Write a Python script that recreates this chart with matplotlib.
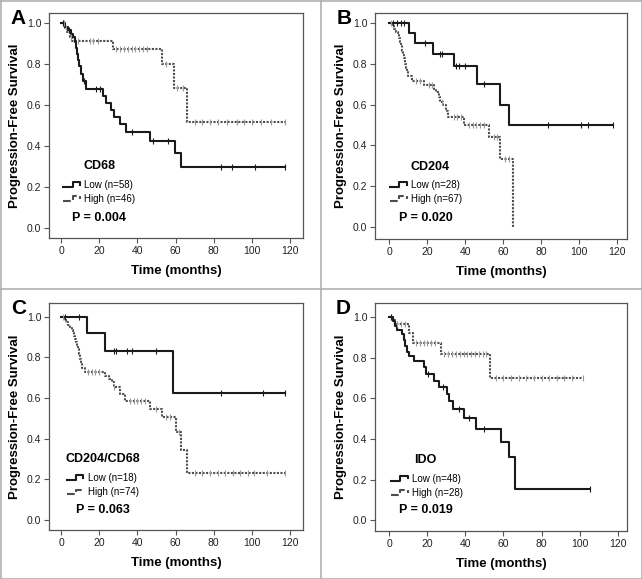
"""
Kaplan-Meier curves (progression-free survival) for four markers,
redrawn as a 2x2 panel figure.
"""

import matplotlib
matplotlib.use("Agg")
import matplotlib.pyplot as plt
import numpy as np
from matplotlib.legend_handler import HandlerBase
from matplotlib.lines import Line2D

plt.rcParams["font.family"] = ["Liberation Sans", "DejaVu Sans"]

# ── Data ────────────────────────────────────────────────────────────────
# A : CD68
A_low_t = [2, 3.5, 5, 6.5, 7.5, 8, 8.5, 9, 9.5, 10.5, 11.5, 13,
           22, 23.5, 26, 28, 31, 34, 46.5, 59.5, 63]
A_low_s = [0.983, 0.966, 0.948, 0.931, 0.91, 0.88, 0.85, 0.82, 0.79, 0.75,
           0.72, 0.68, 0.645, 0.61, 0.575, 0.54, 0.505, 0.47, 0.425, 0.365, 0.295]
A_low_c = [1, 4, 12, 18.5, 20.5, 37, 48, 56, 84, 89.5, 101.5, 117.5]
A_high_t = [2, 3, 4.5, 6, 27, 53, 59, 66]
A_high_s = [0.978, 0.957, 0.935, 0.913, 0.876, 0.80, 0.685, 0.515]
A_high_c = [1, 1.5, 2.5, 5, 9, 15, 17, 19.5, 29, 31, 33, 35, 37, 39, 41, 43,
            45, 55, 61, 64, 70, 74, 78, 82, 87, 92, 96, 100, 105, 110, 117.5]

# B : CD204
B_low_t = [10.5, 13.5, 23, 34, 46.5, 58.5, 63]
B_low_s = [0.952, 0.905, 0.849, 0.79, 0.70, 0.60, 0.50]
B_low_c = [2, 4, 6, 8, 19, 27, 28, 35, 37, 40, 50, 84, 101, 105, 118]
B_high_t = [1.5, 2.5, 3.5, 4.5, 5, 5.5, 6, 6.5, 7, 7.5, 8, 8.5, 9, 9.5, 10,
            12, 18.5, 23.5, 24.5, 26, 27, 28.5, 30, 31, 39.5, 52.5, 58.5, 65.5]
B_high_s = [0.985, 0.97, 0.955, 0.94, 0.925, 0.91, 0.894, 0.878, 0.862, 0.846,
            0.83, 0.80, 0.78, 0.76, 0.74, 0.718, 0.695, 0.678, 0.66, 0.635,
            0.613, 0.598, 0.57, 0.537, 0.498, 0.443, 0.331, 0.0]
B_high_c = [1, 2, 14, 16, 21, 22.5, 28, 34, 36, 38, 42, 44, 46, 48, 50,
            55, 57, 61, 63]

# C : CD204/CD68
C_low_t = [13.5, 23, 58.5]
C_low_s = [0.917, 0.833, 0.625]
C_low_c = [2, 9.5, 27.5, 29, 34.5, 37, 50, 84, 106, 117.5]
C_high_t = [1.5, 2.5, 3.5, 4.5, 5.5, 6.5, 7, 7.5, 8, 8.5, 9, 9.5, 10, 10.5,
            11, 12.5, 23, 25, 26.5, 27.5, 31, 33.5, 46.5, 53, 60, 63, 66]
C_high_s = [0.986, 0.973, 0.959, 0.946, 0.932, 0.919, 0.905, 0.89, 0.875,
            0.86, 0.84, 0.815, 0.79, 0.765, 0.745, 0.727, 0.71, 0.695, 0.677,
            0.652, 0.62, 0.587, 0.546, 0.504, 0.43, 0.342, 0.23]
C_high_c = [1, 2, 14, 16, 18, 20, 28, 36, 38, 40, 42, 44, 50, 55, 57, 62,
            70, 74, 78, 82, 86, 90, 94, 98, 101, 108, 117.5]

# D : IDO
D_low_t = [2, 3, 4, 6.5, 7.5, 8.5, 9.5, 10.5, 13, 18.5, 19.5, 23.5, 26,
           30.5, 31.5, 33.5, 39.5, 45.5, 58.5, 63, 66]
D_low_s = [0.979, 0.958, 0.937, 0.916, 0.89, 0.86, 0.83, 0.81, 0.786, 0.755,
           0.72, 0.688, 0.656, 0.622, 0.586, 0.547, 0.505, 0.45, 0.386, 0.311, 0.155]
D_low_c = [1, 20.5, 28, 36.5, 42, 50, 105.5]
D_high_t = [2, 3, 10.5, 12.5, 27, 53]
D_high_s = [0.985, 0.965, 0.92, 0.875, 0.82, 0.70]
D_high_c = [1, 4, 6, 8, 14, 16, 18, 20, 22, 24, 29, 31, 33, 35, 37, 39, 41,
            43, 45, 47, 49, 51, 56, 60, 64, 68, 72, 76, 80, 84, 88, 92, 96, 102]

LETTERS = ["A", "B", "C", "D"]
MARKERS = ["CD68", "CD204", "CD204/CD68", "IDO"]
N_LOW = [58, 28, 18, 48]
N_HIGH = [46, 67, 74, 28]
P_VALUES = ["0.004", "0.020", "0.063", "0.019"]
X_TICKS = [0, 20, 40, 60, 80, 100, 120]
Y_TICKS = [0.0, 0.2, 0.4, 0.6, 0.8, 1.0]

CURVES = [
    (A_low_t, A_low_s, A_low_c, A_high_t, A_high_s, A_high_c),
    (B_low_t, B_low_s, B_low_c, B_high_t, B_high_s, B_high_c),
    (C_low_t, C_low_s, C_low_c, C_high_t, C_high_s, C_high_c),
    (D_low_t, D_low_s, D_low_c, D_high_t, D_high_s, D_high_c),
]

# ── Layout (pixels: left, top, right, bottom) ───────────────────────────
W, H = 642, 579
BOXES = [(49, 13, 303, 238), (375, 13, 627, 239),
         (49, 303, 303, 530), (375, 303, 627, 531)]
XLIMS = [(-6.3, 126.8), (-7.5, 125.4), (-6.3, 126.8), (-7.5, 124.9)]
YLIMS = [(-0.05, 1.05), (-0.06, 1.05), (-0.05, 1.067), (-0.053, 1.07)]
LETTER_POS = [(10, 19), (337, 19), (11, 309), (336, 309)]
# label positions in data coords: marker name, legend anchor, p value
NAME_POS = [(20, 0.30), (21.8, 0.295), (22, 0.30), (19, 0.295)]
LEG_POS = [(1.2, 0.176), (0.5, 0.172), (3, 0.17), (1, 0.17)]
P_POS = [(20, 0.046), (19.4, 0.044), (21.8, 0.048), (19, 0.048)]

LOW_COLOR = "#1a1a1a"
HIGH_COLOR = "#4d4d4d"
HIGH_CENS = "#9a9a9a"
DOTS = (0, (1, 0.7))


class StepHandler(HandlerBase):
    """Petit symbole en escalier comme dans la légende SPSS."""

    def create_artists(self, legend, orig_handle, xdescent, ydescent,
                       width, height, fontsize, trans):
        xs = np.array([0.0, 0.5, 0.5, 0.9, 0.9]) * width - xdescent
        ys = np.array([0.15, 0.15, 0.85, 0.85, 0.45]) * height - ydescent
        line = Line2D(xs, ys, color=orig_handle.get_color(),
                      linestyle=orig_handle.get_linestyle(),
                      linewidth=orig_handle.get_linewidth())
        line.set_transform(trans)
        return [line]


def censor_levels(times, surv, cens):
    idx = np.searchsorted(times, cens, side="right")
    levels = np.concatenate([[1.0], surv])
    return levels[idx]


def draw_km(ax, times, surv, cens, color, ls, cens_color):
    end = max(max(times), max(cens))
    xs = [0] + list(times) + [end]
    ys = [1.0] + list(surv) + [surv[-1]]
    ax.step(xs, ys, where="post", color=color, linestyle=ls, lw=1.5,
            zorder=3)
    ax.plot(cens, censor_levels(times, surv, cens), linestyle="none",
            marker="|", markersize=4, mew=0.8, color=cens_color, zorder=4)


fig = plt.figure(figsize=(W / 100, H / 100), dpi=100)

# grid lines framing the four cells
for x in [0.5 / W, 0.5, 1 - 0.5 / W]:
    fig.add_artist(Line2D([x, x], [0, 1], color="#b0b0b0", lw=1.2))
for y in [0.5 / H, 1 - 289 / H, 1 - 0.5 / H]:
    fig.add_artist(Line2D([0, 1], [y, y], color="#b0b0b0", lw=1.2))

for i in range(4):
    l, t, r, b = BOXES[i]
    ax = fig.add_axes([l / W, 1 - b / H, (r - l) / W, (b - t) / H])
    lo_t, lo_s, lo_c, hi_t, hi_s, hi_c = CURVES[i]

    draw_km(ax, hi_t, hi_s, hi_c, HIGH_COLOR, DOTS, HIGH_CENS)
    draw_km(ax, lo_t, lo_s, lo_c, LOW_COLOR, "-", LOW_COLOR)

    ax.set_xlim(*XLIMS[i])
    ax.set_ylim(*YLIMS[i])
    ax.set_xticks(X_TICKS)
    ax.set_yticks(Y_TICKS)
    ax.set_yticklabels([f"{v:.1f}" for v in Y_TICKS])
    ax.tick_params(direction="out", length=3.5, width=0.8, color="#555555",
                   labelsize=7.5, labelcolor="#222222", pad=2)
    for sp in ax.spines.values():
        sp.set_color("#555555")
        sp.set_linewidth(0.9)

    ax.set_xlabel("Time (months)", fontsize=9.5, fontweight="bold", labelpad=7)
    ax.set_ylabel("Progression-Free Survival", fontsize=9.5,
                  fontweight="bold", labelpad=4)

    ax.text(*NAME_POS[i], MARKERS[i], fontsize=9, fontweight="bold",
            ha="center", va="center")
    ax.text(*P_POS[i], f"P = {P_VALUES[i]}", fontsize=9, fontweight="bold",
            ha="center", va="center")

    h_low = Line2D([], [], color=LOW_COLOR, linestyle="-", lw=1.5)
    h_high = Line2D([], [], color=HIGH_COLOR, linestyle=DOTS, lw=1.5)
    ax.legend([h_low, h_high],
              [f"Low (n={N_LOW[i]})", f"High (n={N_HIGH[i]})"],
              handler_map={Line2D: StepHandler()},
              loc="center left", bbox_to_anchor=LEG_POS[i],
              bbox_transform=ax.transData, frameon=False, fontsize=7,
              handlelength=1.9, handletextpad=0.25, labelspacing=0.45,
              borderpad=0, borderaxespad=0)

    lx, ly = LETTER_POS[i]
    fig.text(lx / W, 1 - ly / H, LETTERS[i], fontsize=15, fontweight="bold",
             ha="left", va="center")

fig.savefig("out.png", dpi=100)
plt.close()
